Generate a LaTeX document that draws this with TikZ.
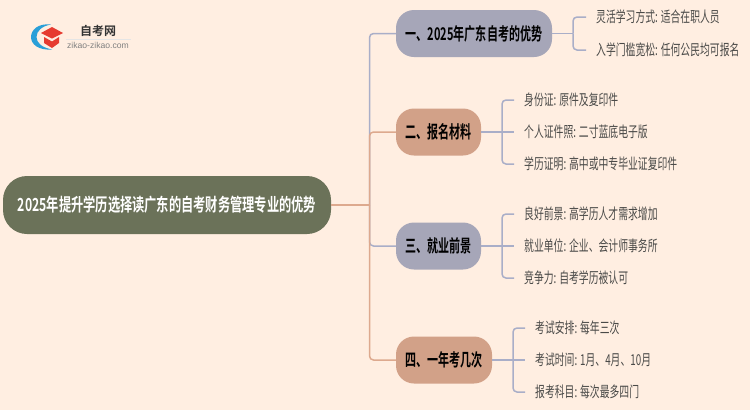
\documentclass[tikz,border=0pt]{standalone}
\usepackage{graphicx}
\usepackage{fontspec}
\setmainfont{Noto Sans CJK SC}
\newfontfamily\cjkreg{Noto Sans CJK SC}
\newfontfamily\cjkbold{Noto Sans CJK SC Bold}
\newfontfamily\latn{Liberation Sans}
\definecolor{bgc}{HTML}{FFEEE1}
\definecolor{rootc}{HTML}{6B7259}
\definecolor{lav}{HTML}{A6A6B8}
\definecolor{lavl}{HTML}{A9AEC8}
\definecolor{ora}{HTML}{D2A188}
\definecolor{oral}{HTML}{DDA98E}
\definecolor{leaft}{HTML}{4A4A48}
\definecolor{logob}{HTML}{2A9FD8}
\definecolor{logor}{HTML}{E63B30}
\newcommand{\leaftxt}[1]{\scalebox{0.655}[1]{\cjkreg\fontsize{15}{17}\selectfont #1}}
\newcommand{\brtxt}[1]{\scalebox{0.63}[1]{\cjkbold\fontsize{17.5}{20}\selectfont #1}}
\tikzset{
  branchbox/.style={draw=none,rounded corners=18pt,minimum height=47pt,inner sep=0pt,text=black,anchor=center},
  lavbox/.style={branchbox,fill=lav},
  orabox/.style={branchbox,fill=ora},
  rootbox/.style={draw=none,fill=rootc,rounded corners=24pt,minimum width=328pt,minimum height=58pt,inner sep=0pt,text=white},
  leafnode/.style={anchor=west,inner xsep=10pt,inner ysep=0pt,text=leaft},
  lavline/.style={draw=lavl,line width=1.5pt,rounded corners=4pt},
  oraline/.style={draw=oral,line width=1.5pt,rounded corners=4pt},
}
\begin{document}
\begin{tikzpicture}[x=1pt,y=-1pt]
\useasboundingbox (0,0) rectangle (750,410);
\fill[bgc] (0,0) rectangle (750,410);
% logo
\fill[logob] (51,24.5) .. controls (38,23) and (31,30) .. (31,37) .. controls (31,44) and (38,50.5) .. (52,49.5) .. controls (42,47.5) and (36.5,43) .. (36.5,37) .. controls (36.5,31) and (42,26) .. (51,24.5) -- cycle;
\fill[logor] (41,33) -- (52,27) -- (63,33) -- (52,38.5) -- cycle;
\fill[logor] (44,37) -- (52,41.5) -- (59,37) -- (59,43) -- (52,48) -- (44,43) -- cycle;
\node[inner sep=0pt,text=black!80] (logotitle) at (98,30.5) {\cjkbold\fontsize{12}{14}\selectfont 自考网};
\node[inner sep=0pt,text=black!50] (logosub) at (98,45) {\latn\fontsize{8.6}{10}\selectfont zikao-zikao.com};
\draw[black!10,line width=.5pt] (66,39) -- (131,39);
% nodes
\node[rootbox] (root) at (167,205) {\scalebox{0.68}[1]{\cjkbold\fontsize{18}{20}\selectfont 2025年提升学历选择读广东的自考财务管理专业的优势}};
\node[lavbox,minimum width=156pt] (b1) at (474,33.5) {\brtxt{一、2025年广东自考的优势}};
\node[orabox,minimum width=85pt] (b2) at (438.5,132) {\brtxt{二、报名材料}};
\node[lavbox,minimum width=85pt] (b3) at (438.5,246) {\brtxt{三、就业前景}};
\node[orabox,minimum width=96pt] (b4) at (444,360) {\brtxt{四、一年考几次}};
\node[leafnode] (l11) at (586,17) {\leaftxt{灵活学习方式: 适合在职人员}};
\node[leafnode] (l12) at (586,50) {\leaftxt{入学门槛宽松: 任何公民均可报名}};
\node[leafnode] (l21) at (514,100) {\leaftxt{身份证: 原件及复印件}};
\node[leafnode] (l22) at (514,132) {\leaftxt{个人证件照: 二寸蓝底电子版}};
\node[leafnode] (l23) at (514,164) {\leaftxt{学历证明: 高中或中专毕业证复印件}};
\node[leafnode] (l31) at (514,214) {\leaftxt{良好前景: 高学历人才需求增加}};
\node[leafnode] (l32) at (514,246) {\leaftxt{就业单位: 企业、会计师事务所}};
\node[leafnode] (l33) at (514,278) {\leaftxt{竞争力: 自考学历被认可}};
\node[leafnode] (l41) at (525,328) {\leaftxt{考试安排: 每年三次}};
\node[leafnode] (l42) at (525,360) {\leaftxt{考试时间: 1月、4月、10月}};
\node[leafnode] (l43) at (525,392) {\leaftxt{报考科目: 每次最多四门}};
% junctions
\coordinate (sp) at (369.5,205);
\coordinate (j1) at (573,33.5);
\coordinate (j2) at (502,132);
\coordinate (j3) at (502,246);
\coordinate (j4) at (513,360);
% trunk
\draw[lavline] (sp) |- (b1.west);
\draw[lavline] (sp) |- (b3.west);
\draw[oraline] (sp) |- (b2.west);
\draw[oraline] (sp) |- (b4.west);
\draw[oraline] (root.east) -- (sp);
% leaves
\draw[lavline] (b1.east) -- (j1);
\draw[lavline] (j1) |- (l11.west);
\draw[lavline] (j1) |- (l12.west);
\draw[lavline] (b2.east) -- (l22.west);
\draw[lavline] (j2) |- (l21.west);
\draw[lavline] (j2) |- (l23.west);
\draw[lavline] (b3.east) -- (l32.west);
\draw[lavline] (j3) |- (l31.west);
\draw[lavline] (j3) |- (l33.west);
\draw[lavline] (b4.east) -- (l42.west);
\draw[lavline] (j4) |- (l41.west);
\draw[lavline] (j4) |- (l43.west);
\end{tikzpicture}
\end{document}
